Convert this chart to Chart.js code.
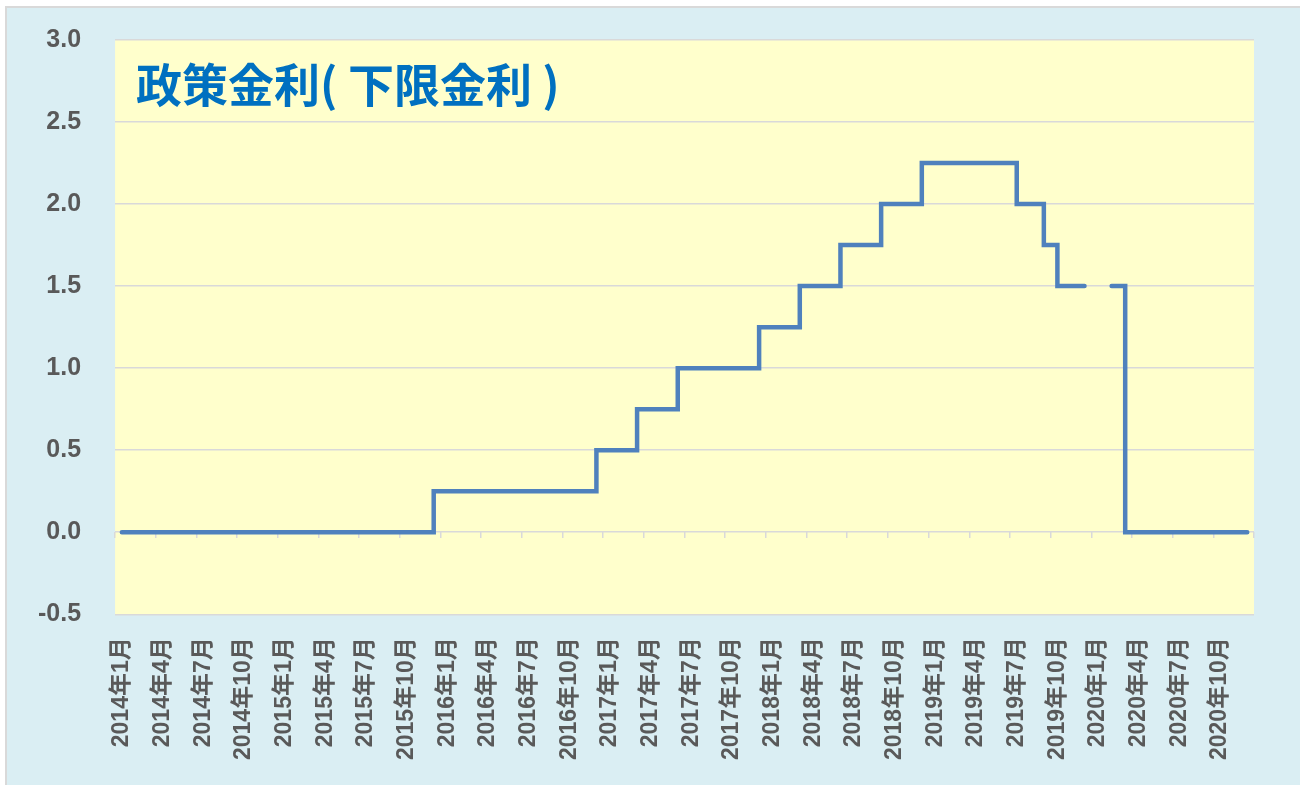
<!DOCTYPE html>
<html>
<head>
<meta charset="utf-8">
<script src="https://cdn.jsdelivr.net/npm/chart.js@4"></script>
<style>
body{margin:0;background:#fff;overflow:hidden;}
#frame{position:absolute;left:5px;top:6px;right:0;bottom:0;background:#DAEEF3;border-left:2px solid #D9D9D9;border-top:2px solid #D9D9D9;}
#chart1{position:absolute;left:0;top:-9px;}
</style>
</head>
<body>
<div id="frame"></div>
<canvas id="chart1" width="1300" height="794"></canvas>
<script>
// 月次ラベル
var months = [
    "2014年1月","2014年2月","2014年3月","2014年4月","2014年5月","2014年6月","2014年7月","2014年8月","2014年9月","2014年10月","2014年11月","2014年12月",
    "2015年1月","2015年2月","2015年3月","2015年4月","2015年5月","2015年6月","2015年7月","2015年8月","2015年9月","2015年10月","2015年11月","2015年12月",
    "2016年1月","2016年2月","2016年3月","2016年4月","2016年5月","2016年6月","2016年7月","2016年8月","2016年9月","2016年10月","2016年11月","2016年12月",
    "2017年1月","2017年2月","2017年3月","2017年4月","2017年5月","2017年6月","2017年7月","2017年8月","2017年9月","2017年10月","2017年11月","2017年12月",
    "2018年1月","2018年2月","2018年3月","2018年4月","2018年5月","2018年6月","2018年7月","2018年8月","2018年9月","2018年10月","2018年11月","2018年12月",
    "2019年1月","2019年2月","2019年3月","2019年4月","2019年5月","2019年6月","2019年7月","2019年8月","2019年9月","2019年10月","2019年11月","2019年12月",
    "2020年1月","2020年2月","2020年3月","2020年4月","2020年5月","2020年6月","2020年7月","2020年8月","2020年9月","2020年10月","2020年11月","2020年12月"
];
// 政策金利(下限) 2020年1月は欠損
var rate = [
    0,0,0,0,0,0,0,0,0,0,0,0,
    0,0,0,0,0,0,0,0,0,0,0,0.25,
    0.25,0.25,0.25,0.25,0.25,0.25,0.25,0.25,0.25,0.25,0.25,0.5,
    0.5,0.5,0.75,0.75,0.75,1,1,1,1,1,1,1.25,
    1.25,1.25,1.5,1.5,1.5,1.75,1.75,1.75,2,2,2,2.25,
    2.25,2.25,2.25,2.25,2.25,2.25,2,2,1.75,1.5,1.5,1.5,
    null,1.5,0,0,0,0,0,0,0,0,0,0
];
var yTicks = [-0.5, 0, 0.5, 1, 1.5, 2, 2.5, 3];
var title = "政策金利( 下限金利 )";

var bgPlugin = {
    id: 'bg',
    beforeDraw: function(chart){
        var a = chart.chartArea, c = chart.ctx;
        c.save();
        c.fillStyle = '#FFFFCC';
        c.fillRect(a.left, a.top, a.right - a.left, a.bottom - a.top);
        c.restore();
    },
    beforeDatasetsDraw: function(chart){
        var a = chart.chartArea, c = chart.ctx;
        c.save();
        c.fillStyle = '#0070C0';
        c.font = 'bold 46px "Noto Sans CJK JP"';
        c.textBaseline = 'middle';
        c.fillText(title, a.left + 21, a.top + 45);
        c.restore();
    }
};

var ctx = document.getElementById("chart1").getContext('2d');
var chart = new Chart(ctx, {
    type: 'line',
    data: {
        labels: months,
        datasets: [{
            data: rate,
            xAxisID: 'x',
            yAxisID: 'y',
            borderColor: '#4F81BD',
            borderWidth: 4.5,
            borderCapStyle: 'round',
            pointRadius: 0,
            stepped: true,
            spanGaps: false,
            fill: false
        }]
    },
    options: {
        responsive: false,
        animation: false,
        layout: {
            padding: {left: 4, top: 25, right: 46, bottom: 2}
        },
        plugins: {
            legend: {display: false},
            tooltip: {enabled: false}
        },
        scales: {
            x: {
                type: 'category',
                offset: true,
                grid: {display: false, drawTicks: false},
                border: {display: false},
                ticks: {
                    autoSkip: false,
                    minRotation: 90,
                    maxRotation: 90,
                    padding: 23,
                    color: '#595959',
                    font: {family: '"Liberation Sans", "Noto Sans CJK JP"', size: 23, weight: 'bold'},
                    callback: function(v, i){ return i % 3 === 0 ? months[i] : ''; }
                }
            },
            x2: {
                type: 'category',
                labels: months,
                position: {y: 0},
                offset: true,
                border: {display: false},
                grid: {
                    offset: true,
                    drawOnChartArea: false,
                    drawTicks: true,
                    tickLength: 6,
                    lineWidth: 1.5,
                    color: function(c){ return (c.index === undefined || c.index % 3 === 0) ? '#D9D9D9' : 'rgba(0,0,0,0)'; }
                },
                ticks: {display: false, autoSkip: false}
            },
            y: {
                min: yTicks[0],
                max: yTicks[yTicks.length - 1],
                afterBuildTicks: function(s){ s.ticks = yTicks.map(function(v){ return {value: v}; }); },
                grid: {color: '#D9D9D9', lineWidth: 1.5, drawTicks: false},
                border: {display: false},
                ticks: {
                    padding: 34,
                    color: '#595959',
                    font: {family: '"Liberation Sans"', size: 25, weight: 'bold'},
                    callback: function(v){ return Number(v).toFixed(1); }
                }
            }
        }
    },
    plugins: [bgPlugin]
});
</script>
</body>
</html>
